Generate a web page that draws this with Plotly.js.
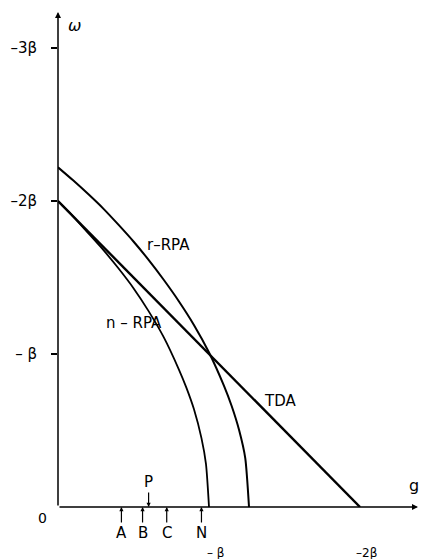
<!DOCTYPE html>
<html>
<head>
<meta charset="utf-8">
<script src="https://cdn.plot.ly/plotly-3.0.1.min.js"></script>
<style>html,body{margin:0;padding:0;background:#fff;}#chart{width:421px;height:559px;}</style>
</head>
<body>
<div id="chart"></div>
<script>
// coupling strength |g| in units of beta, excitation energy |omega| in units of beta
var tdaG = [0, 2.0];
var tdaW = [2.0, 0];

var nrpaG = [0, 0.1, 0.2, 0.3, 0.4, 0.5, 0.6, 0.7, 0.8, 0.85, 0.9, 0.95, 0.98, 1.0];
var nrpaW = [2.0, 1.9, 1.79, 1.68, 1.56, 1.43, 1.28, 1.11, 0.9, 0.78, 0.64, 0.45, 0.28, 0.0];

var rrpaG = [0, 0.1, 0.2, 0.3, 0.4, 0.5, 0.6, 0.7, 0.8, 0.9, 1.0, 1.1, 1.15, 1.2, 1.24, 1.265];
var rrpaW = [2.22, 2.135, 2.045, 1.95, 1.845, 1.735, 1.615, 1.485, 1.345, 1.19, 1.01, 0.79, 0.66, 0.5, 0.32, 0.0];

var yTickVals = [1, 2, 3];
var yTickText = ['– β', '–2β', '–3β'];
var xTickVals = [1, 2];
var xTickText = ['– β', '–2β'];

var belowMarks = ['A', 'B', 'C', 'N'];
var belowMarkG = [0.42, 0.56, 0.72, 0.95];
var aboveMarks = ['P'];
var aboveMarkG = [0.60];

var curveLabels = ['r–RPA', 'n – RPA', 'TDA'];
var curveLabelG = [0.735, 0.50, 1.47];
var curveLabelW = [1.71, 1.20, 0.69];

var XMAX = 2.384, YMAX = 3.235;
var FONT = 'DejaVu Sans, Arial, sans-serif';

var traces = [
  {x: tdaG, y: tdaW, mode: 'lines', line: {color: '#000', width: 2.4}, cliponaxis: false, hoverinfo: 'skip'},
  {x: nrpaG, y: nrpaW, mode: 'lines', line: {color: '#000', width: 1.8, shape: 'spline', smoothing: 0.6}, cliponaxis: false, hoverinfo: 'skip'},
  {x: rrpaG, y: rrpaW, mode: 'lines', line: {color: '#000', width: 2, shape: 'spline', smoothing: 0.6}, cliponaxis: false, hoverinfo: 'skip'}
];

var ann = [];
// axes with arrowheads
ann.push({x: XMAX, y: 0, ax: 0, ay: 0, xref: 'x', yref: 'y', axref: 'x', ayref: 'y', text: '', showarrow: true, arrowhead: 2, arrowsize: 0.8, arrowwidth: 1.5, arrowcolor: '#000', standoff: 0});
ann.push({x: 0, y: YMAX, ax: 0, ay: 0, xref: 'x', yref: 'y', axref: 'x', ayref: 'y', text: '', showarrow: true, arrowhead: 2, arrowsize: 0.8, arrowwidth: 1.5, arrowcolor: '#000', standoff: 0});
// axis names
ann.push({x: 0.11, y: 3.15, xref: 'x', yref: 'y', text: '<i>ω</i>', showarrow: false, font: {family: FONT, size: 16, color: '#000'}});
ann.push({x: 2.36, y: 0.14, xref: 'x', yref: 'y', text: 'g', showarrow: false, font: {family: FONT, size: 16, color: '#000'}});
// origin label
ann.push({x: -0.042, y: -0.022, xref: 'paper', yref: 'paper', text: '0', showarrow: false, xanchor: 'center', yanchor: 'middle', font: {family: FONT, size: 14, color: '#000'}});
// x tick labels
for (var i = 0; i < xTickVals.length; i++) {
  ann.push({x: xTickVals[i] + 0.04, y: -0.092, xref: 'x', yref: 'paper', text: xTickText[i], showarrow: false, xanchor: 'center', yanchor: 'middle', font: {family: FONT, size: 12, color: '#000'}});
}
// marks below the axis
for (var j = 0; j < belowMarks.length; j++) {
  ann.push({x: belowMarkG[j], y: 0, xref: 'x', yref: 'y', text: belowMarks[j], showarrow: true, ax: 0, ay: 26, arrowhead: 2, arrowsize: 0.7, arrowwidth: 1.2, arrowcolor: '#000', standoff: 0, font: {family: FONT, size: 15, color: '#000'}});
}
for (var k = 0; k < aboveMarks.length; k++) {
  ann.push({x: aboveMarkG[k], y: 0, xref: 'x', yref: 'y', text: aboveMarks[k], showarrow: true, ax: 0, ay: -25, arrowhead: 2, arrowsize: 0.7, arrowwidth: 1.2, arrowcolor: '#000', standoff: 0, font: {family: FONT, size: 15, color: '#000'}});
}
// curve labels
for (var m = 0; m < curveLabels.length; m++) {
  ann.push({x: curveLabelG[m], y: curveLabelW[m], xref: 'x', yref: 'y', text: curveLabels[m], showarrow: false, font: {family: FONT, size: 15, color: '#000'}});
}

var layout = {
  width: 421, height: 559,
  margin: {l: 58, r: 3, t: 12, b: 52},
  paper_bgcolor: '#fff', plot_bgcolor: '#fff',
  showlegend: false,
  font: {family: FONT, size: 14, color: '#000'},
  xaxis: {range: [0, XMAX], showgrid: false, zeroline: false, showline: false, showticklabels: false, ticks: '', fixedrange: true},
  yaxis: {range: [0, YMAX], showgrid: false, zeroline: false, showline: false,
          tickvals: yTickVals, ticktext: yTickText, ticks: 'outside', ticklen: 6, tickwidth: 1.5, tickcolor: '#000',
          ticklabelstandoff: 11, tickfont: {family: FONT, size: 15, color: '#000'}, fixedrange: true},
  annotations: ann
};

Plotly.newPlot('chart', traces, layout, {staticPlot: true, displayModeBar: false});
</script>
</body>
</html>
